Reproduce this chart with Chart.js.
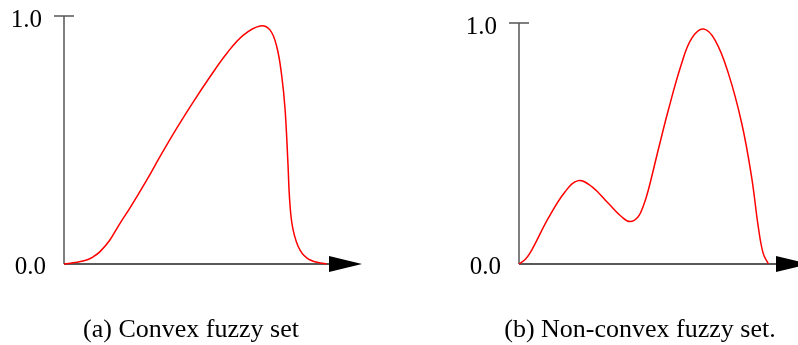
<!DOCTYPE html>
<html>
<head>
<meta charset="utf-8">
<script src="https://cdn.jsdelivr.net/npm/chart.js@4.4.0/dist/chart.umd.min.js"></script>
<style>
  body { margin: 0; background: #fff; }
  #wrap { position: relative; width: 798px; height: 345px; }
  canvas { position: absolute; top: 0; }
</style>
</head>
<body>
<div id="wrap">
  <canvas id="convexChart" width="399" height="345" style="left:0"></canvas>
  <canvas id="nonConvexChart" width="399" height="345" style="left:399px"></canvas>
</div>
<script>
// membership values (x in axis units, 0 = origin, 10 = arrow tip)
const convexX = [0, 0.43, 0.76, 0.98, 1.21, 1.54, 1.88, 2.21, 2.78, 3.22, 3.78, 4.34, 4.90, 5.46, 6.02, 6.58, 6.91, 7.14, 7.31, 7.42, 7.51, 7.58, 7.69, 7.92, 8.26, 8.82];
const convexY = [0, 0.007, 0.016, 0.029, 0.05, 0.097, 0.164, 0.225, 0.339, 0.433, 0.547, 0.654, 0.755, 0.849, 0.923, 0.96, 0.944, 0.876, 0.755, 0.621, 0.419, 0.245, 0.137, 0.056, 0.016, 0];

const nonConvexX = [0, 0.22, 0.44, 1.01, 1.59, 2.04, 2.51, 3.08, 3.54, 3.83, 4.11, 4.30, 4.46, 4.80, 5.15, 5.61, 5.96, 6.36, 6.76, 7.22, 7.68, 8.02, 8.25, 8.42, 8.60];
const nonConvexY = [0, 0.02, 0.058, 0.19, 0.30, 0.346, 0.321, 0.252, 0.196, 0.176, 0.196, 0.245, 0.307, 0.473, 0.639, 0.833, 0.937, 0.975, 0.929, 0.791, 0.584, 0.362, 0.155, 0.044, 0];

const tickLabels = ['0.0', '1.0'];
const captions = ['(a) Convex fuzzy set', '(b) Non-convex fuzzy set.'];

// draws the hand-made axes: vertical line with top tick, x axis with arrow
const fuzzyAxes = {
    id: 'fuzzyAxes',
    beforeDatasetsDraw(chart, args, opts) {
        const ctx = chart.ctx;
        const x = chart.scales.x, y = chart.scales.y;
        const x0 = x.getPixelForValue(0);
        const y0 = y.getPixelForValue(0);
        const y1 = y.getPixelForValue(1);
        ctx.save();
        ctx.lineWidth = 1.5;
        ctx.strokeStyle = '#555';
        ctx.beginPath();
        ctx.moveTo(x0, y0);
        ctx.lineTo(x0, y1);
        ctx.moveTo(x0 - 10, y1);
        ctx.lineTo(x0 + 10, y1);
        ctx.stroke();
        ctx.strokeStyle = '#222';
        ctx.beginPath();
        ctx.moveTo(x0, y0);
        ctx.lineTo(x.getPixelForValue(9), y0);
        ctx.stroke();
        ctx.restore();
    },
    afterDraw(chart, args, opts) {
        const ctx = chart.ctx;
        const x = chart.scales.x, y = chart.scales.y;
        const x0 = x.getPixelForValue(0);
        const y0 = y.getPixelForValue(0);
        const y1 = y.getPixelForValue(1);
        const tip = x.getPixelForValue(10);
        ctx.save();
        ctx.fillStyle = '#000';
        ctx.beginPath();
        ctx.moveTo(tip - 33, y0 - 8);
        ctx.lineTo(tip, y0);
        ctx.lineTo(tip - 33, y0 + 8);
        ctx.closePath();
        ctx.fill();

        ctx.font = '25px "Liberation Serif", "Times New Roman", serif';
        ctx.textAlign = 'right';
        ctx.textBaseline = 'alphabetic';
        ctx.fillText(tickLabels[1], x0 - 22, y1 + 10.5);
        ctx.fillText(tickLabels[0], x0 - 18, y0 + 10);

        ctx.font = '26px "Liberation Serif", "Times New Roman", serif';
        ctx.textAlign = 'center';
        ctx.fillText(opts.caption, opts.captionX, 337);
        ctx.restore();
    }
};

function makeChart(canvasId, xs, ys, caption, captionX, padding, xMax) {
    const ctx = document.getElementById(canvasId).getContext('2d');
    return new Chart(ctx, {
        type: 'line',
        data: {
            datasets: [{
                data: xs.map((v, i) => ({ x: v, y: ys[i] })),
                borderColor: '#ff0000',
                borderWidth: 1.5,
                pointRadius: 0,
                fill: false,
                tension: 0.4,
                clip: { left: false, top: false, right: false, bottom: 1 }
            }]
        },
        options: {
            responsive: false,
            animation: false,
            layout: { padding: padding },
            plugins: {
                legend: { display: false },
                tooltip: { enabled: false },
                fuzzyAxes: { caption: caption, captionX: captionX }
            },
            scales: {
                x: { type: 'linear', min: 0, max: xMax, display: false },
                y: { type: 'linear', min: 0, max: 1, display: false }
            }
        },
        plugins: [fuzzyAxes]
    });
}

// left panel: origin at (64,264), top tick at y=16, arrow tip at x=362
makeChart('convexChart', convexX, convexY, captions[0], 191,
    { left: 64, right: 37, top: 16, bottom: 81 }, 10);
// right panel: origin at (519,264), top tick at y=23, arrow tip past the edge
makeChart('nonConvexChart', nonConvexX, nonConvexY, captions[1], 241,
    { left: 120, right: 0, top: 23, bottom: 81 }, 279 / 29);
</script>
</body>
</html>
